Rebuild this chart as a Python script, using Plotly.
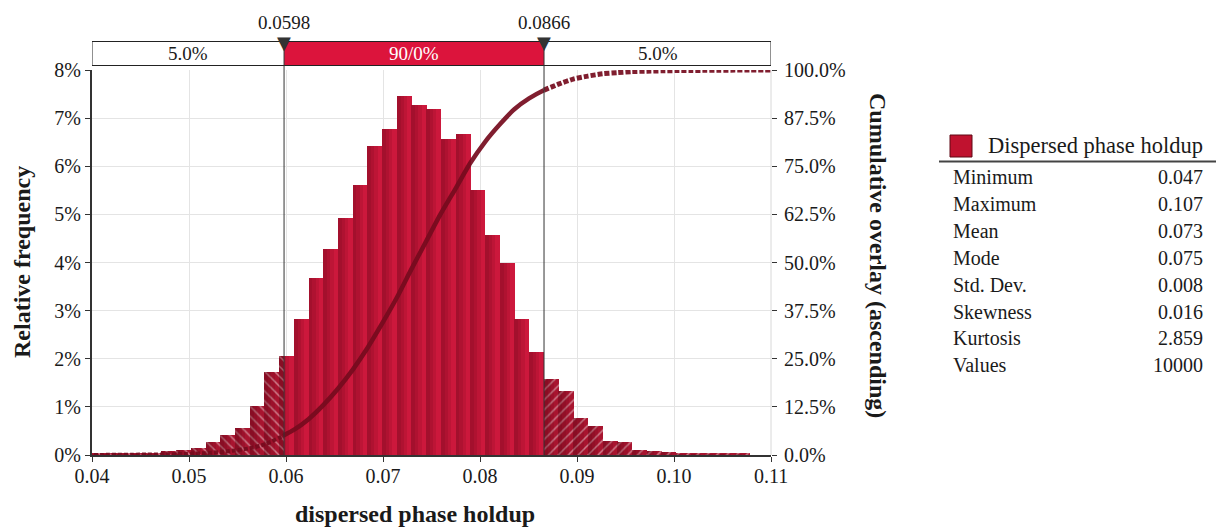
import numpy as np
import plotly.graph_objects as go

# ---- data -------------------------------------------------------------
bin_width = 0.001516
bin_left = [
    0.03958, 0.04110, 0.04261, 0.04413, 0.04564, 0.04716, 0.04868, 0.05019,
    0.05171, 0.05322, 0.05474, 0.05626, 0.05777, 0.05929, 0.06080, 0.06232,
    0.06384, 0.06535, 0.06687, 0.06838, 0.06990, 0.07142, 0.07293, 0.07445,
    0.07596, 0.07748, 0.07900, 0.08051, 0.08203, 0.08354, 0.08506, 0.08658,
    0.08809, 0.08961, 0.09112, 0.09264, 0.09416, 0.09567, 0.09719, 0.09870,
    0.10022, 0.10174, 0.10325, 0.10477, 0.10628,
]
rel_freq = [
    0.03, 0.03, 0.03, 0.03, 0.03, 0.075, 0.11, 0.145,
    0.28, 0.42, 0.57, 1.01, 1.73, 2.05, 2.82, 3.67,
    4.28, 4.93, 5.62, 6.42, 6.78, 7.46, 7.27, 7.20,
    6.56, 6.66, 5.50, 4.57, 3.98, 2.82, 2.15, 1.58,
    1.34, 0.77, 0.61, 0.30, 0.27, 0.10, 0.09, 0.07,
    0.03, 0.03, 0.03, 0.03, 0.03,
]
lower_cut = 0.0598
upper_cut = 0.0866
band_labels = ["5.0%", "90/0%", "5.0%"]

x_ticks = [0.04, 0.05, 0.06, 0.07, 0.08, 0.09, 0.10, 0.11]
freq_ticks = [0, 1, 2, 3, 4, 5, 6, 7, 8]
cum_ticks = [0, 12.5, 25, 37.5, 50, 62.5, 75, 87.5, 100]

stat_names = ["Minimum", "Maximum", "Mean", "Mode", "Std. Dev.",
              "Skewness", "Kurtosis", "Values"]
stat_values = ["0.047", "0.107", "0.073", "0.075", "0.008",
               "0.016", "2.859", "10000"]
series_name = "Dispersed phase holdup"

# ---- styling ----------------------------------------------------------
FONT = "Liberation Serif"
TXT = "#1a1a1a"
SOLID = "#cc183c"
TAIL = "#a8142f"
CURVE = "#760b1e"
BAND = "#dc143c"

# plot area in pixels (used for placing decorations in paper units)
W, H = 1216, 527
L, R, T, B = 92, 771, 70, 455


def px(xp):
    return (xp - L) / (R - L)


def py(yp):
    return (B - yp) / (B - T)


fig = go.Figure()

# ---- histogram pieces, split at the two cut values ----------------------
pieces = {"left": [], "mid": [], "right": []}
for a, h in zip(bin_left, rel_freq):
    b = a + bin_width
    bounds = sorted({a, b} | {c for c in (lower_cut, upper_cut) if a < c < b})
    for s, e in zip(bounds[:-1], bounds[1:]):
        m = 0.5 * (s + e)
        key = "left" if m < lower_cut else ("right" if m > upper_cut else "mid")
        pieces[key].append((s, e - s, h))

overlap = 0.00004  # hides sub-pixel seams between neighbouring bars


def add_bars(items, marker):
    if not items:
        return
    fig.add_trace(go.Bar(
        x=[p[0] for p in items], y=[p[2] for p in items],
        width=[p[1] + overlap for p in items], offset=0,
        marker=marker, showlegend=False, hoverinfo="skip",
    ))


add_bars(pieces["mid"], dict(color=SOLID, line=dict(width=0)))
add_bars(pieces["left"], dict(color=TAIL, line=dict(width=0),
                              pattern=dict(shape="\\", fgcolor="rgba(255,255,255,0.9)",
                                           bgcolor=TAIL, size=7, solidity=0.22)))
add_bars(pieces["right"], dict(color=TAIL, line=dict(width=0),
                               pattern=dict(shape="/", fgcolor="rgba(255,255,255,0.9)",
                                            bgcolor=TAIL, size=7, solidity=0.22)))

# darker shading toward the left side of every bar
for frac in (0.7, 0.48, 0.26):
    fig.add_trace(go.Bar(
        x=bin_left, y=rel_freq, width=[bin_width * frac] * len(bin_left), offset=0,
        marker=dict(color="rgba(60,0,10,0.10)", line=dict(width=0)),
        showlegend=False, hoverinfo="skip",
    ))

# ---- cumulative curve ---------------------------------------------------
edges = np.array(bin_left + [bin_left[-1] + bin_width])
cum = np.concatenate([[0.0], np.cumsum(rel_freq)])
cum = cum / cum[-1] * 100.0
edges = np.append(edges, x_ticks[-1])
cum = np.append(cum, 100.0)
cum_lo = float(np.interp(lower_cut, edges, cum))
cum_hi = float(np.interp(upper_cut, edges, cum))

lm = edges < lower_cut
rm = edges > upper_cut
mm = ~lm & ~rm
seg_left = (list(edges[lm]) + [lower_cut], list(cum[lm]) + [cum_lo])
seg_mid = ([lower_cut] + list(edges[mm]) + [upper_cut], [cum_lo] + list(cum[mm]) + [cum_hi])
seg_right = ([upper_cut] + list(edges[rm]), [cum_hi] + list(cum[rm]))

for (xs, ys), dash, wdt in ((seg_left, "4px,2px", 4), (seg_mid, "solid", 4.5),
                            (seg_right, "5px,2px", 5)):
    fig.add_trace(go.Scatter(
        x=xs, y=ys, yaxis="y2", mode="lines",
        line=dict(color=CURVE, width=wdt, shape="spline", smoothing=0.6, dash=dash),
        opacity=0.92, showlegend=False, hoverinfo="skip",
    ))

# ---- percentile band ----------------------------------------------------
band_y0, band_y1 = py(65.5), py(41.5)
band_x = [x_ticks[0], lower_cut, upper_cut, x_ticks[-1]]
shapes = [
    dict(type="rect", xref="x", yref="paper", x0=lower_cut, x1=upper_cut,
         y0=band_y0, y1=band_y1, fillcolor=BAND, line=dict(width=0), layer="below"),
    dict(type="rect", xref="x", yref="paper", x0=band_x[0], x1=band_x[-1],
         y0=band_y0, y1=band_y1, fillcolor="rgba(0,0,0,0)",
         line=dict(color="#222", width=1), layer="below"),
]
for c in (lower_cut, upper_cut):
    shapes.append(dict(type="line", xref="x", yref="paper", x0=c, x1=c,
                       y0=0, y1=band_y1, line=dict(color="#333", width=1), layer="above"))
# right frame edge
shapes.append(dict(type="line", xref="paper", yref="paper", x0=1, x1=1, y0=0, y1=1,
                   line=dict(color="#d8d8d8", width=1), layer="below"))

annotations = []


def note(x, y, text, size, xref="paper", xanchor="center", angle=0, color=TXT,
         family=FONT, yanchor="middle"):
    annotations.append(dict(
        x=x, y=y, xref=xref, yref="paper", text=text, showarrow=False,
        xanchor=xanchor, yanchor=yanchor, textangle=angle,
        font=dict(family=family, size=size, color=color),
    ))


for i, lab in enumerate(band_labels):
    note(0.5 * (band_x[i] + band_x[i + 1]), py(54), lab, 19, xref="x",
         color="white" if i == 1 else TXT)
for c in (lower_cut, upper_cut):
    note(c, py(22.5), f"{c:.4f}", 19, xref="x")
    # cut marker sitting on the top edge of the band
    note(c, py(42.5), "\u25BC", 18, xref="x", color="#333", family="DejaVu Sans")

# axis titles
note(px(22), py(262), "<b>Relative frequency</b>", 24, angle=-90)
note(px(878), py(255), "<b>Cumulative overlay (ascending)</b>", 24, angle=90)
note(px(415), py(514), "<b>dispersed phase holdup</b>", 24)

# ---- statistics panel ---------------------------------------------------
shapes.append(dict(type="rect", xref="paper", yref="paper", x0=px(950), x1=px(972),
                   y0=py(157), y1=py(135), fillcolor="#c0122f",
                   line=dict(color="#5e0814", width=1)))
shapes.append(dict(type="line", xref="paper", yref="paper", x0=px(939), x1=px(1216),
                   y0=py(161.5), y1=py(161.5), line=dict(color="#444", width=2)))
note(px(986), py(145), series_name, 22.5, xanchor="left")
row_y0, row_dy = 177, 26.9
for k, (nm, val) in enumerate(zip(stat_names, stat_values)):
    yy = py(row_y0 + k * row_dy)
    note(px(951), yy, nm, 20, xanchor="left")
    note(px(1205), yy, val, 20, xanchor="right")

fig.update_layout(
    width=W, height=H,
    margin=dict(l=L, r=W - R, t=T, b=H - B),
    paper_bgcolor="white", plot_bgcolor="white",
    barmode="overlay", bargap=0,
    font=dict(family=FONT, color=TXT),
    xaxis=dict(
        range=[x_ticks[0], x_ticks[-1]], tickvals=x_ticks,
        ticktext=[f"{v:.2f}" for v in x_ticks],
        showgrid=True, gridcolor="#e4e4e4", gridwidth=1,
        showline=True, linecolor="#333", linewidth=2,
        ticks="outside", ticklen=5, tickcolor="#333", ticklabelstandoff=-3,
        tickfont=dict(family=FONT, size=20, color=TXT), zeroline=False,
    ),
    yaxis=dict(
        range=[0, 8], tickvals=freq_ticks, ticktext=[f"{v}%" for v in freq_ticks],
        showgrid=True, gridcolor="#e4e4e4", gridwidth=1,
        showline=True, linecolor="#333", linewidth=2,
        ticks="outside", ticklen=5, tickcolor="#333",
        tickfont=dict(family=FONT, size=20, color=TXT), zeroline=False,
    ),
    yaxis2=dict(
        overlaying="y", side="right", range=[0, 100], tickvals=cum_ticks,
        ticktext=[f"{v:.1f}%" for v in cum_ticks], showgrid=False,
        ticks="outside", ticklen=5, tickcolor="#333", showline=False,
        ticklabelstandoff=3,
        tickfont=dict(family=FONT, size=20, color=TXT), zeroline=False,
    ),
    shapes=shapes, annotations=annotations,
)

fig.write_html("out.html")
